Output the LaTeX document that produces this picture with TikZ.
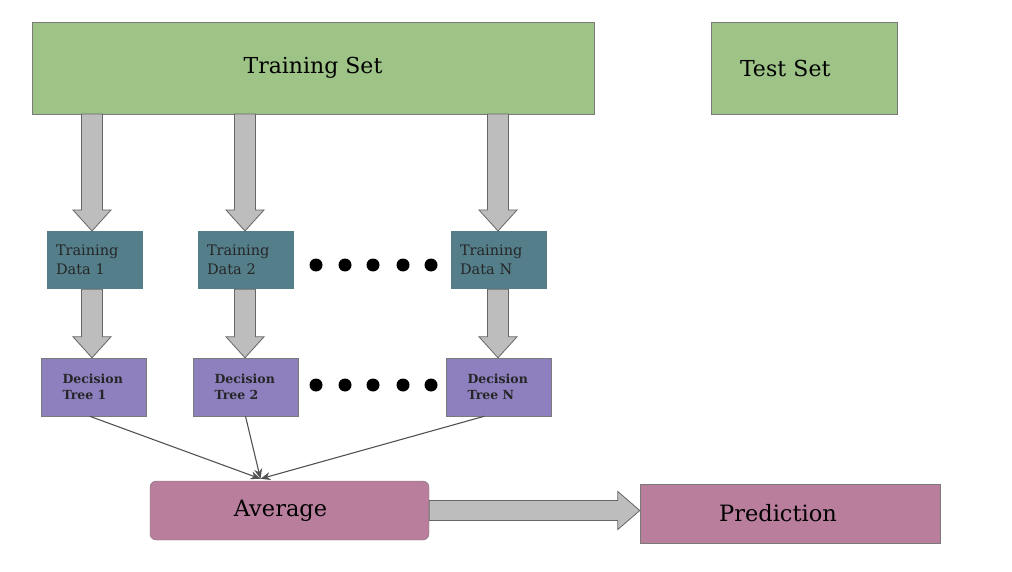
\documentclass[tikz,border=0pt]{standalone}
\usepackage{fontspec}
\setmainfont{DejaVu Serif}
\usetikzlibrary{arrows.meta, positioning, calc}
\definecolor{set_green}{HTML}{9EC386}
\definecolor{data_teal}{HTML}{537E8A}
\definecolor{tree_purple}{HTML}{8E7FBF}
\definecolor{avg_mauve}{HTML}{B87E9C}
\definecolor{frame_gray}{HTML}{7A7A7A}
\definecolor{fat_gray}{HTML}{BDBDBD}
\tikzset{
  setbox/.style={draw=frame_gray,fill=set_green,minimum height=92pt,font=\fontsize{22}{26}\selectfont},
  databox/.style={fill=data_teal,minimum width=96pt,minimum height=58pt,text width=78pt,align=left,
    inner sep=0pt,font=\fontsize{14.5}{19}\selectfont,text=black!85},
  treebox/.style={draw=frame_gray,fill=tree_purple,minimum width=105pt,minimum height=58pt,text width=62pt,
    align=left,inner sep=0pt,font=\bfseries\fontsize{12.5}{16}\selectfont,text=black!85},
  outbox/.style={draw=frame_gray,fill=avg_mauve,minimum height=59pt,font=\fontsize{22.5}{26}\selectfont},
  fat/.style={draw=black!60,fill=fat_gray,thick},
  vote/.style={line width=1.1pt,draw=black!68,-{Stealth[length=10pt,width=8pt]}},
  dot/.style={fill=black},
}
% fat block arrow, pointing down, tip on #2
\newcommand{\fatdown}[2]{
  \draw[fat] ($(#1)+(-10.5,0)$) -- ($(#2)+(-10.5,-21)$) -- ($(#2)+(-19,-21)$) -- (#2)
    -- ($(#2)+(19,-21)$) -- ($(#2)+(10.5,-21)$) -- ($(#1)+(10.5,0)$) -- cycle;
}
% fat block arrow, pointing right, tip on #2
\newcommand{\fatright}[2]{
  \draw[fat] ($(#1)+(0,-10)$) -- ($(#2)+(-22,-10)$) -- ($(#2)+(-22,-19)$) -- (#2)
    -- ($(#2)+(-22,19)$) -- ($(#2)+(-22,10)$) -- ($(#1)+(0,10)$) -- cycle;
}
\begin{document}
\begin{tikzpicture}[x=1pt,y=-1pt]
  \useasboundingbox (0,0) rectangle (1012,572);
  % sets
  \node[setbox,minimum width=562pt] (train) at (313,68) {Training Set};
  \node[setbox,minimum width=186pt,text width=160pt,align=left] (test) at (804,68) {\hspace*{16pt}Test Set};
  % bootstrap samples
  \node[databox] (td1) at (95,260) {Training\\Data 1};
  \node[databox] (td2) at (246,260) {Training\\Data 2};
  \node[databox] (tdn) at (499,260) {Training\\Data N};
  % trees
  \node[treebox] (dt1) at (93.5,387) {Decision\\Tree 1};
  \node[treebox] (dt2) at (245.5,387) {Decision\\Tree 2};
  \node[treebox] (dtn) at (498.5,387) {Decision\\Tree N};
  % output
  \node[outbox,rounded corners=6pt,minimum width=279pt] (avg) at (289.5,510.5) {Average\hspace*{18pt}};
  \node[outbox,minimum width=300pt] (pred) at (790,513.5) {Prediction\hspace*{24pt}};
  \coordinate (avgin) at ([xshift=-29pt,yshift=2pt]avg.north);
  % fat arrows
  \coordinate (s1) at (92,114);
  \coordinate (s2) at (245,114);
  \coordinate (s3) at (498,114);
  \fatdown{s1}{92,231}
  \fatdown{s2}{245,231}
  \fatdown{s3}{498,231}
  \fatdown{td1.south -| s1}{dt1.north -| s1}
  \fatdown{td2.south -| s2}{dt2.north -| s2}
  \fatdown{tdn.south -| s3}{dtn.north -| s3}
  \fatright{avg.east}{pred.west |- avg.east}
  % dots
  \foreach \x in {316,345,373,403,431} {
    \fill[dot] (\x,265) circle (6.5);
    \fill[dot] (\x,385) circle (6.5);
  }
  % votes
  \draw[vote] ([xshift=-4pt]dt1.south) -- (avgin);
  \draw[vote] (dt2.south) -- (avgin);
  \draw[vote] ([xshift=-14pt]dtn.south) -- (avgin);
\end{tikzpicture}
\end{document}
